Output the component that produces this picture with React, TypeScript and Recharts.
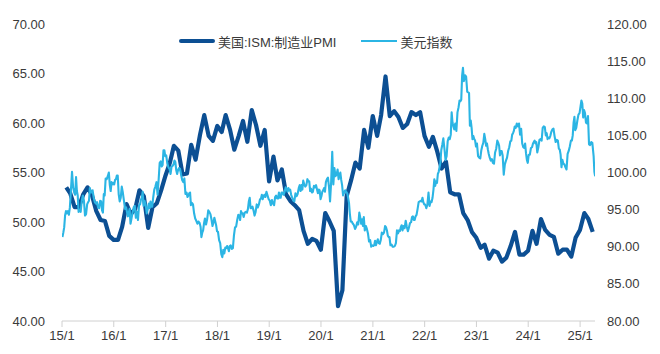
import React from 'react';
import { LineChart, Line, XAxis, YAxis, Legend } from 'recharts';

// ISM manufacturing PMI, monthly (Jan..Dec)
const pmi2015 = [53.5, 52.9, 51.5, 51.5, 52.8, 53.5, 52.7, 51.1, 50.2, 50.1, 48.6, 48.2];
const pmi2016 = [48.2, 49.5, 51.8, 50.8, 51.3, 53.2, 52.6, 49.4, 51.5, 51.9, 53.2, 54.7];
const pmi2017 = [56.0, 57.7, 57.2, 54.8, 54.9, 57.8, 56.3, 58.8, 60.8, 58.7, 58.2, 59.7];
const pmi2018 = [59.1, 60.8, 59.3, 57.3, 58.7, 60.2, 58.1, 61.3, 59.8, 57.7, 59.3, 54.1];
const pmi2019 = [56.6, 54.2, 55.3, 52.8, 52.1, 51.7, 51.2, 49.1, 47.8, 48.3, 48.1, 47.2];
const pmi2020 = [50.9, 50.1, 49.1, 41.5, 43.1, 52.6, 54.2, 56.0, 55.4, 59.3, 57.5, 60.7];
const pmi2021 = [58.7, 60.8, 64.7, 60.7, 61.2, 60.6, 59.5, 59.9, 61.1, 60.8, 61.1, 58.7];
const pmi2022 = [57.6, 58.6, 57.1, 55.4, 56.1, 53.0, 52.8, 52.8, 50.9, 50.2, 49.0, 48.4];
const pmi2023 = [47.4, 47.7, 46.3, 47.1, 46.9, 46.0, 46.4, 47.6, 49.0, 46.7, 46.7, 47.1];
const pmi2024 = [49.1, 47.8, 50.3, 49.2, 48.7, 48.5, 46.8, 47.2, 47.2, 46.5, 48.4, 49.2];
const pmi2025 = [50.9, 50.3, 49.0];

// US dollar index, roughly weekly readings grouped by month
const dxy2015 = [
  [91.3, 91.9, 92.6, 94.2, 94.8], [94.5, 94.8, 94.3, 95.3], [97.6, 100.1, 98.0, 97.3],
  [97.0, 99.4, 97.5, 96.9, 94.7], [95.0, 94.7, 96.2, 96.9], [96.2, 94.2, 94.4, 95.7],
  [96.0, 96.2, 97.9, 97.3, 97.3], [97.6, 96.6, 96.0, 95.8], [96.0, 95.3, 95.2, 96.2],
  [96.1, 94.9, 94.6, 97.1, 96.9], [99.2, 99.1, 99.5, 100.0], [98.3, 97.5, 98.7, 98.4, 98.6],
];
const dxy2016 = [
  [98.4, 99.0, 99.1, 99.6, 99.6], [97.1, 96.1, 96.6, 98.1], [97.3, 96.2, 95.1, 95.3],
  [94.6, 94.1, 94.6, 95.1, 93.1], [93.8, 94.6, 95.3, 95.5], [93.9, 94.7, 93.6, 95.6],
  [95.7, 96.3, 96.6, 97.4, 95.5], [96.2, 95.7, 94.5, 95.1], [95.8, 95.2, 96.1, 95.4, 95.4],
  [96.6, 97.7, 98.1, 98.7], [97.0, 99.0, 101.3, 101.5], [100.8, 101.0, 103.0, 103.0, 102.2],
];
const dxy2017 = [
  [102.3, 101.2, 100.7, 100.5], [99.8, 100.8, 100.9, 101.1], [101.6, 101.4, 100.3, 99.8, 100.3],
  [100.6, 100.5, 99.7, 99.0], [98.7, 99.2, 97.1, 97.3], [96.7, 96.9, 97.2, 97.3, 95.6],
  [95.9, 95.7, 94.5, 93.8], [93.5, 93.1, 93.4, 93.2], [92.7, 91.3, 91.9, 92.2, 93.1],
  [93.8, 93.0, 93.7, 94.9], [94.7, 94.4, 93.7, 92.8], [93.3, 93.9, 93.4, 92.9, 92.1],
];
const dxy2018 = [
  [92.0, 90.9, 90.5, 89.0], [88.6, 89.6, 89.1, 89.9], [89.8, 90.1, 89.8, 89.4, 90.1],
  [90.2, 89.7, 89.8, 91.5], [92.6, 92.7, 93.6, 94.3], [94.2, 93.6, 94.8, 94.5, 94.5],
  [94.0, 94.6, 94.7, 94.6], [95.1, 96.1, 96.6, 95.2, 95.2], [95.4, 94.9, 94.2, 94.7],
  [95.7, 95.3, 95.7, 96.4], [96.5, 97.0, 96.4, 96.8, 97.0], [96.7, 97.4, 96.9, 96.4],
];
const dxy2019 = [
  [96.2, 95.6, 96.3, 95.8], [95.6, 96.7, 96.9, 96.5], [96.5, 97.3, 96.6, 96.6, 97.3],
  [97.3, 97.0, 97.4, 98.0], [97.8, 97.4, 97.9, 97.6, 97.7], [97.0, 96.6, 96.2, 96.1],
  [97.2, 96.8, 97.1, 97.9], [98.3, 97.5, 98.3, 97.7, 98.9], [98.4, 98.1, 98.3, 99.1],
  [98.8, 98.8, 97.5, 97.8, 97.3], [97.4, 98.2, 98.0, 98.3], [97.7, 97.2, 97.7, 97.6, 96.4],
];
const dxy2020 = [
  [96.8, 97.4, 97.6, 97.9, 97.4], [98.7, 99.1, 99.3, 98.1], [96.1, 98.7, 102.8, 98.4],
  [100.6, 99.5, 99.7, 100.4], [99.1, 99.6, 100.0, 99.0, 98.3], [96.9, 97.3, 97.6, 97.4],
  [97.2, 96.6, 95.9, 94.4, 93.4], [93.4, 93.1, 92.9, 92.4], [92.7, 93.3, 93.0, 94.6],
  [93.9, 93.1, 93.7, 92.8, 94.0], [92.2, 92.8, 92.4, 91.8], [90.7, 90.9, 90.0, 90.2],
];
const dxy2021 = [
  [90.1, 90.2, 90.8, 90.2, 90.6], [91.0, 90.5, 90.4, 90.9], [91.9, 91.7, 91.9, 92.8],
  [92.6, 92.2, 91.5, 91.3, 91.3], [90.2, 90.3, 90.0, 90.0], [90.1, 90.5, 92.2, 91.8],
  [92.2, 92.1, 92.6, 92.9, 92.2], [92.8, 92.5, 93.5, 92.7], [92.1, 92.6, 93.2, 93.3],
  [94.0, 94.1, 93.6, 93.6, 94.1], [94.3, 95.1, 96.0, 96.1], [96.2, 96.1, 96.6, 96.0, 95.7],
];
const dxy2022 = [
  [95.7, 95.2, 95.7, 97.3], [95.5, 96.1, 96.0, 96.6], [97.7, 99.1, 98.2, 98.8, 98.6],
  [99.8, 100.1, 100.7, 101.3, 103.0], [103.7, 104.6, 103.2, 101.7], [102.2, 104.2, 104.7, 104.5],
  [105.1, 108.1, 106.7, 106.2, 105.8], [106.6, 105.6, 108.1, 108.8], [109.7, 109.6, 109.8, 113.0, 114.1],
  [112.3, 113.1, 112.9, 110.9], [110.8, 110.7, 106.3, 107.0, 106.0], [104.5, 104.9, 104.5, 104.3, 103.5],
];
const dxy2023 = [
  [103.9, 102.2, 102.0, 101.9], [103.0, 103.6, 104.0, 105.2], [104.5, 103.6, 103.9, 103.1, 102.5],
  [102.0, 101.6, 101.8, 101.3], [101.2, 102.7, 103.2, 104.3], [104.0, 103.6, 102.3, 102.9, 102.9],
  [102.3, 99.7, 101.1, 101.6], [102.0, 102.9, 103.4, 104.2], [104.3, 105.1, 105.3, 105.6, 106.2],
  [106.0, 106.6, 106.2, 106.6], [105.1, 105.9, 103.9, 103.4], [103.3, 103.9, 102.6, 101.7, 101.3],
];
const dxy2024 = [
  [102.4, 102.4, 103.3, 103.4], [103.9, 104.1, 104.3, 103.9, 104.1], [102.7, 103.4, 104.4, 104.5],
  [104.3, 106.0, 106.2, 106.1], [105.0, 105.3, 104.5, 104.7, 104.6], [104.9, 105.5, 105.8, 105.9],
  [104.9, 104.1, 104.4, 104.3], [103.2, 103.1, 102.4, 100.7, 101.7], [101.2, 101.1, 100.7, 100.4],
  [102.5, 102.9, 103.5, 104.3], [104.3, 105.0, 106.7, 107.5, 105.7], [106.0, 107.0, 107.8, 108.0],
];
const dxy2025 = [
  [108.9, 109.7, 109.3, 107.4, 108.4], [108.0, 106.7, 106.6, 107.6], [103.8, 103.7, 104.1, 104.0],
  [102.2, 100.1, 99.5],
];

const firstYear = 2015;
const xTickYears = [2015, 2016, 2017, 2018, 2019, 2020, 2021, 2022, 2023, 2024, 2025];
const leftTicks = [40, 45, 50, 55, 60, 65, 70];
const rightTicks = [80, 85, 90, 95, 100, 105, 110, 115, 120];
const lastMonthDays = 16;

const pmiYears = [pmi2015, pmi2016, pmi2017, pmi2018, pmi2019, pmi2020, pmi2021, pmi2022, pmi2023, pmi2024, pmi2025];
const dxyYears = [dxy2015, dxy2016, dxy2017, dxy2018, dxy2019, dxy2020, dxy2021, dxy2022, dxy2023, dxy2024, dxy2025];

const DAY = 86400000;
const pmiData = pmiYears.flatMap((arr, yi) =>
  arr.map((v, m) => ({ t: Date.UTC(firstYear + yi, m + 1, 0), pmi: v }))
);
const dxyData: { t: number; dxy: number }[] = [];
dxyYears.forEach((months, yi) => {
  months.forEach((vals, m) => {
    const y = firstYear + yi;
    const start = Date.UTC(y, m, 1);
    const isLast = yi === dxyYears.length - 1 && m === months.length - 1;
    const len = isLast ? lastMonthDays * DAY : Date.UTC(y, m + 1, 1) - start;
    vals.forEach((v, i) => {
      const frac = isLast ? (i + 1) / vals.length : (i + 0.5) / vals.length;
      dxyData.push({ t: start + frac * len, dxy: v });
    });
  });
});

const xTicks = xTickYears.map((y) => Date.UTC(y, 0, 1));
const xDomain = [Date.UTC(2015, 0, 1), Date.UTC(2025, 3, lastMonthDays)];

const DARK = '#0c4f93';
const LIGHT = '#2bb5e4';
const FONT = "'Liberation Sans', Arial, 'Noto Sans CJK SC', sans-serif";
const TEXT = '#3a3a3a';

const LegendContent = () => (
  <div style={{ display: 'flex', alignItems: 'center', height: 20, fontFamily: FONT, fontSize: 13, color: TEXT, whiteSpace: 'nowrap' }}>
    <span style={{ display: 'inline-block', width: 36, height: 4, background: DARK, borderRadius: 2, marginRight: 3 }} />
    <span>美国:ISM:制造业PMI</span>
    <span style={{ display: 'inline-block', width: 36, height: 2.5, background: LIGHT, marginLeft: 25, marginRight: 3 }} />
    <span>美元指数</span>
  </div>
);

export default function App() {
  const tickStyle = { fontSize: 13, fill: TEXT, fontFamily: FONT };
  return (
    <div style={{ position: 'absolute', left: 0, top: 0, width: 660, height: 354, background: '#fff' }}>
      <LineChart width={660} height={354} margin={{ top: 24, right: 10, bottom: 3, left: 12 }}>
        <XAxis
          dataKey="t"
          type="number"
          domain={xDomain}
          allowDataOverflow
          ticks={xTicks}
          tickFormatter={(v: number) => `${String(new Date(v).getUTCFullYear()).slice(2)}/1`}
          stroke="#d0d0d0"
          tickSize={6}
          tickMargin={4}
          tick={tickStyle}
          height={30}
        />
        <YAxis
          yAxisId="left"
          orientation="left"
          domain={[40, 70]}
          ticks={leftTicks}
          tickFormatter={(v: number) => v.toFixed(2)}
          axisLine={false}
          tickLine={false}
          tickSize={0}
          tickMargin={17}
          tick={tickStyle}
          width={50}
        />
        <YAxis
          yAxisId="right"
          orientation="right"
          domain={[80, 120]}
          ticks={rightTicks}
          tickFormatter={(v: number) => v.toFixed(2)}
          axisLine={false}
          tickLine={false}
          tickSize={0}
          tickMargin={12}
          tick={tickStyle}
          width={55}
        />
        <Legend
          layout="horizontal"
          verticalAlign="middle"
          align="center"
          content={<LegendContent />}
          wrapperStyle={{ top: 31, left: 179, width: 320, height: 20 }}
        />
        <Line
          yAxisId="left"
          data={pmiData}
          dataKey="pmi"
          name="美国:ISM:制造业PMI"
          stroke={DARK}
          strokeWidth={4.2}
          dot={false}
          strokeLinejoin="round"
          isAnimationActive={false}
        />
        <Line
          yAxisId="right"
          data={dxyData}
          dataKey="dxy"
          name="美元指数"
          stroke={LIGHT}
          strokeWidth={2.1}
          dot={false}
          strokeLinejoin="round"
          isAnimationActive={false}
        />
      </LineChart>
    </div>
  );
}
